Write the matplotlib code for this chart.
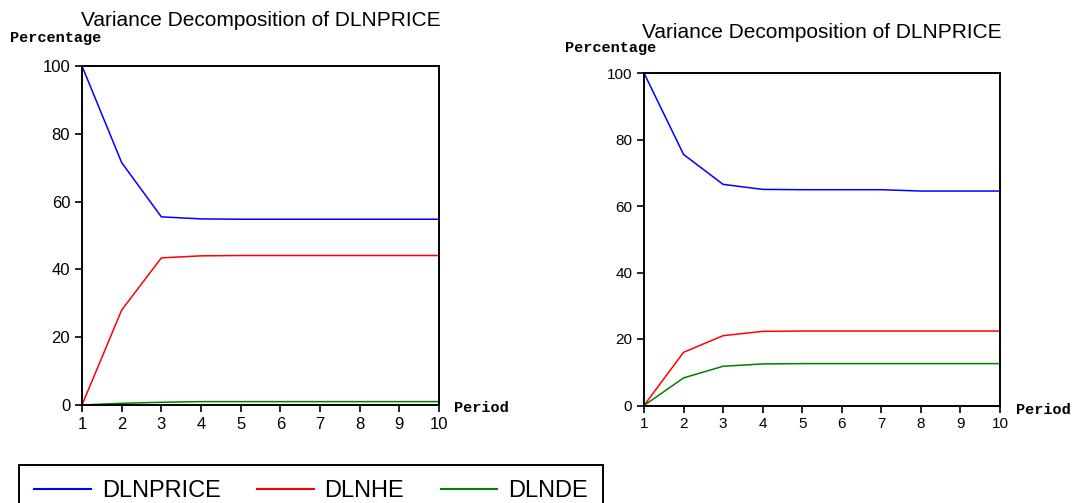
import matplotlib
matplotlib.use("Agg")
import matplotlib.pyplot as plt

periods = [1, 2, 3, 4, 5, 6, 7, 8, 9, 10]

# left panel
left_price = [100, 71.5, 55.5, 54.9, 54.8, 54.8, 54.8, 54.8, 54.8, 54.8]
left_he = [0, 28.0, 43.4, 44.0, 44.1, 44.1, 44.1, 44.1, 44.1, 44.1]
left_de = [0, 0.5, 0.8, 1.0, 1.0, 1.0, 1.0, 1.0, 1.0, 1.0]

# right panel
right_price = [100, 75.5, 66.5, 65.0, 64.9, 64.9, 64.9, 64.5, 64.5, 64.5]
right_he = [0, 16.0, 21.0, 22.3, 22.4, 22.4, 22.4, 22.4, 22.4, 22.4]
right_de = [0, 8.3, 11.8, 12.5, 12.6, 12.6, 12.6, 12.6, 12.6, 12.6]

series_names = ["DLNPRICE", "DLNHE", "DLNDE"]
colors = ["#0000ff", "#ff0000", "#008000"]
title = "Variance Decomposition of DLNPRICE"

sans = "Liberation Sans"
mono = "Liberation Mono"

fig = plt.figure(figsize=(10.78, 5.03), dpi=100)
W, H = 1078, 503


def px(x0, y0, x1, y1):
    return [x0 / W, 1 - y1 / H, (x1 - x0) / W, (y1 - y0) / H]


def panel(rect, data, tick_size, title_y, perc_xy, period_xy):
    ax = fig.add_axes(rect)
    lines = []
    for vals, c in zip(data, colors):
        ln, = ax.plot(periods, vals, color=c, lw=1.1)
        lines.append(ln)
    ax.set_xlim(1, 10)
    ax.set_ylim(0, 100)
    ax.set_xticks(periods)
    ax.set_yticks([0, 20, 40, 60, 80, 100])
    for s in ax.spines.values():
        s.set_linewidth(1.4)
    ax.tick_params(direction="out", length=5, width=1.2, labelsize=tick_size)
    for lab in ax.get_xticklabels() + ax.get_yticklabels():
        lab.set_fontfamily(sans)
    bb = ax.get_position()
    fig.text((bb.x0 + bb.x1) / 2, 1 - title_y / H, title, ha="center",
             va="center", fontsize=15, family=sans)
    fig.text(perc_xy[0] / W, 1 - perc_xy[1] / H, "Percentage", ha="left",
             va="center", fontsize=11, family=mono, weight="bold")
    fig.text(period_xy[0] / W, 1 - period_xy[1] / H, "Period", ha="left",
             va="center", fontsize=11, family=mono, weight="bold")
    return lines


lines = panel(px(82, 66, 439, 405), [left_price, left_he, left_de], 12,
              21, (10, 38), (454, 408))
panel(px(644, 73, 1000, 405.5), [right_price, right_he, right_de], 11,
      32, (565, 48), (1016, 410))

leg = fig.legend(lines, series_names, loc="upper left",
                 bbox_to_anchor=(19 / W, 1 - 465 / H), ncol=3,
                 prop={"family": sans, "size": 17}, frameon=True,
                 fancybox=False, edgecolor="black", framealpha=1,
                 borderpad=0.65, handlelength=2.4, handletextpad=0.45,
                 columnspacing=1.55, borderaxespad=0)
leg.get_frame().set_linewidth(1.4)
for h in leg.legend_handles:
    h.set_linewidth(1.5)

fig.savefig("out.png", dpi=100)
